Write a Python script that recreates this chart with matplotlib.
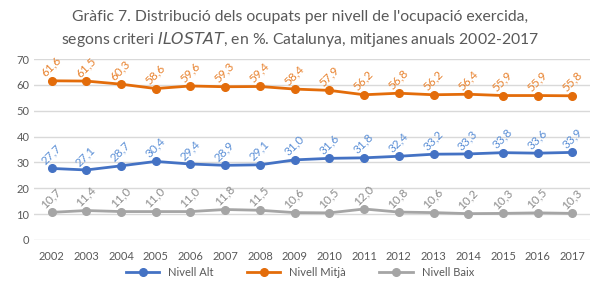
import matplotlib
matplotlib.use("Agg")
import matplotlib.pyplot as plt
from matplotlib.transforms import ScaledTranslation

plt.rcParams["font.family"] = ["Lato", "DejaVu Sans"]

years = ["2002", "2003", "2004", "2005", "2006", "2007", "2008", "2009",
         "2010", "2011", "2012", "2013", "2014", "2015", "2016", "2017"]
alt = [27.7, 27.1, 28.7, 30.4, 29.4, 28.9, 29.1, 31.0,
       31.6, 31.8, 32.4, 33.2, 33.3, 33.8, 33.6, 33.9]
mitja = [61.6, 61.5, 60.3, 58.6, 59.6, 59.3, 59.4, 58.4,
         57.9, 56.2, 56.8, 56.2, 56.4, 55.9, 55.9, 55.8]
baix = [10.7, 11.4, 11.0, 11.0, 11.0, 11.8, 11.5, 10.6,
        10.5, 12.0, 10.8, 10.6, 10.2, 10.3, 10.5, 10.3]

series = [
    ("Nivell Alt", alt, "#4472C4", "#5B8FD6"),
    ("Nivell Mitjà", mitja, "#E36C0A", "#E8822E"),
    ("Nivell Baix", baix, "#A5A5A5", "#8C8C8C"),
]

fig = plt.figure(figsize=(6, 3), dpi=100)
ax = fig.add_axes([0.057, 0.2, 0.926, 0.603])

# desplaçament de l'etiqueta respecte al punt (polzades)
off = ScaledTranslation(-0.09, 0.06, fig.dpi_scale_trans)

x = list(range(len(years)))
for name, vals, col, lcol in series:
    ax.plot(x, vals, color=col, lw=2.0, marker="o", ms=5.5, label=name)
    for xi, v in zip(x, vals):
        ax.text(xi, v, f"{v:.1f}".replace(".", ","), transform=ax.transData + off,
                rotation=45, rotation_mode="anchor", ha="left", va="center",
                fontsize=8.5, color=lcol)

ax.set_xlim(-0.5, len(years) - 0.5)
ax.set_ylim(0, 70)
ax.set_yticks(range(0, 71, 10))
ax.set_xticks(x)
ax.set_xticklabels(years)
ax.tick_params(length=0, labelsize=8, colors="#595959")
ax.tick_params(axis="x", pad=8)
ax.grid(axis="y", color="#D9D9D9", lw=1)
ax.set_axisbelow(True)
for s in ax.spines.values():
    s.set_visible(False)

fig.text(0.5, 0.945, "Gràfic 7. Distribució dels ocupats per nivell de l'ocupació exercida,",
         ha="center", va="center", fontsize=11.3, color="#595959")
fig.text(0.5, 0.868, "segons criteri $\\it{ILOSTAT}$, en %. Catalunya, mitjanes anuals 2002-2017",
         ha="center", va="center", fontsize=11.3, color="#595959")

fig.legend(loc="center", bbox_to_anchor=(0.5, 0.093), ncol=3, frameon=False,
           fontsize=8, labelcolor="#595959", handlelength=3, columnspacing=3)

fig.savefig("out.png", dpi=100)
